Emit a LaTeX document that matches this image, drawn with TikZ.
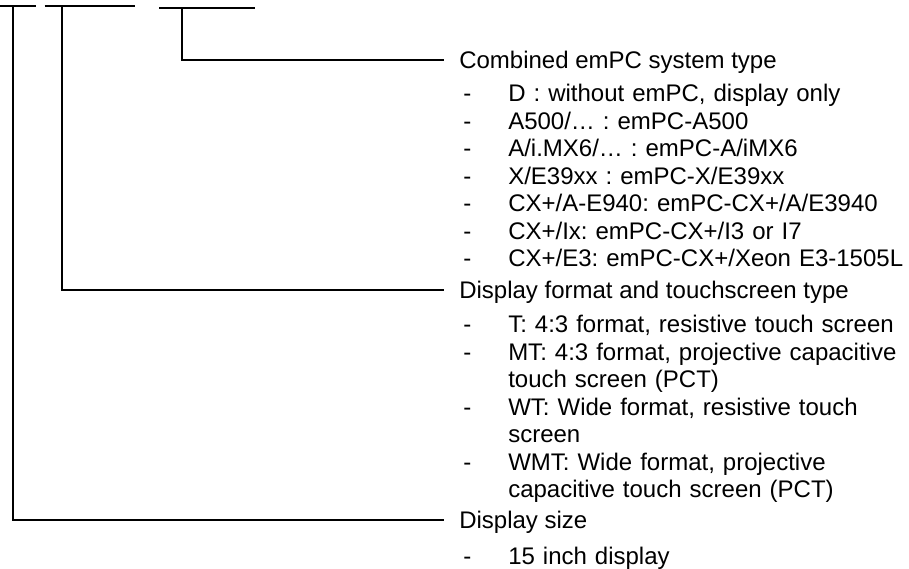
\documentclass[tikz,border=0pt]{standalone}
\usepackage{fontspec}
\setmainfont{Liberation Sans}
\frenchspacing
\tikzset{
  code/.style={line width=1.5pt},
  head/.style={anchor=west, inner sep=0pt, text height=13pt, text depth=0pt,
    font=\fontsize{18pt}{20.625pt}\selectfont},
  list/.style={anchor=base west, inner sep=0pt, text width=340pt, align=left,
    font=\fontsize{18pt}{20.625pt}\selectfont},
}
\newcommand{\itm}{\makebox[36.75pt][l]{\hspace{3pt}-}}
\newcommand{\cnt}{\hspace*{36.75pt}}
\begin{document}
\begin{tikzpicture}[x=0.75pt,y=-0.75pt]
\useasboundingbox (0,0) rectangle (909,568);
% code fields
\draw[code] (0,5.5) -- (35.5,5.5);
\draw[code] (44.5,5.5) -- (135,5.5);
\draw[code] (159,8) -- (255,8);
\coordinate (v1) at (12.7,5.5);
\coordinate (v2) at (62.3,5.5);
\coordinate (v3) at (182,8);
% headings
\node[head] (sys) at (459,60) {Combined emPC system type};
\node[head] (fmt) at (459,290) {Display format and touchscreen type};
\node[head] (size) at (459,520) {Display size};
\draw[code] (v3) |- ([xshift=-11.25pt]sys.west);
\draw[code] (v2) |- ([xshift=-11.25pt]fmt.west);
\draw[code] (v1) |- ([xshift=-11.25pt]size.west);
% lists
\node[list] (sysl) at (459,101.5) {\itm D : without emPC, display only\\
\itm A500/\dots\ : emPC-A500\\
\itm A/i.MX6/\dots\ : emPC-A/iMX6\\
\itm X/E39xx : emPC-X/E39xx\\
\itm CX+/A-E940: emPC-CX+/A/E3940\\
\itm CX+/Ix: emPC-CX+/I3 or I7\\
\itm CX+/E3: emPC-CX+/Xeon E3-1505L};
\node[list] (fmtl) at (459,332.5) {\itm T: 4:3 format, resistive touch screen\\
\itm MT: 4:3 format, projective capacitive\\
\cnt touch screen (PCT)\\
\itm WT: Wide format, resistive touch\\
\cnt screen\\
\itm WMT: Wide format, projective\\
\cnt capacitive touch screen (PCT)};
\node[list] (sizel) at (459,564) {\itm 15 inch display};
\end{tikzpicture}
\end{document}
